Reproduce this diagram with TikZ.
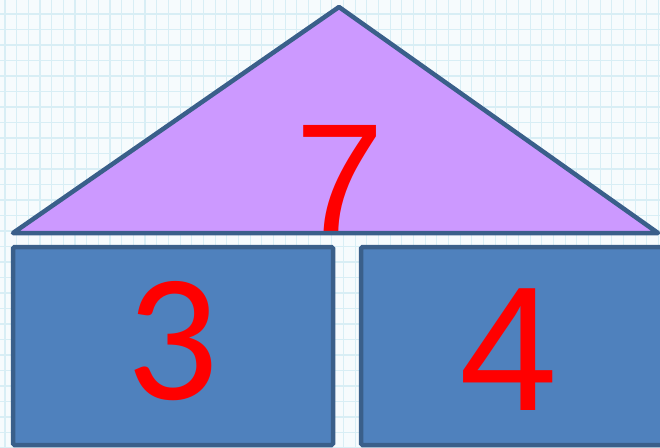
\documentclass[tikz,border=0pt]{standalone}
\usepackage{fontspec}
\setmainfont{Liberation Sans}
\newfontfamily\calfont{Carlito}
\definecolor{gridbg}{HTML}{F6FBFD}
\definecolor{gridln}{HTML}{D8EEF5}
\definecolor{edge}{HTML}{3A5F8A}
\definecolor{roof}{HTML}{CC99FF}
\definecolor{boxfill}{HTML}{4F81BD}
\definecolor{digit}{HTML}{FF0000}
\begin{document}
\begin{tikzpicture}[x=1pt,y=-1pt,
  boxshape/.style={draw=edge,fill=boxfill,line width=4.5pt,rounded corners=1.5pt},
  roofshape/.style={fill=roof},
  roofline/.style={draw=edge,line width=4.5pt,line join=round},
  numtext/.style={text=digit,inner sep=0pt,anchor=base}]
\useasboundingbox (0,0) rectangle (660,447);
\fill[gridbg] (0,0) rectangle (660,447);
\foreach \i in {0,...,56} {\draw[gridln,line width=1.1pt] (5+11.67*\i,0) -- (5+11.67*\i,447);}
\foreach \j in {0,...,28} {\draw[gridln,line width=1.1pt] (0,14+15.5*\j) -- (660,14+15.5*\j);}
\coordinate (apex) at (339,7);
\coordinate (bl) at (13,233);
\coordinate (br) at (658,233);
\fill[roofshape] (apex) -- (br) -- (bl) -- cycle;
\node[numtext,font=\fontsize{160}{160}\selectfont] (seven) at (340,235) {7};
\draw[roofline] (apex) -- (br) -- (bl) -- cycle;
\draw[boxshape] (13,247) rectangle (333,445);
\draw[boxshape] (361,247) rectangle (668,445);
\node[numtext,font=\calfont\fontsize{182}{182}\selectfont] (three) at (173,399) {3};
\node[numtext,font=\fontsize{177}{177}\selectfont] (four) at (509,410) {4};
\end{tikzpicture}
\end{document}
